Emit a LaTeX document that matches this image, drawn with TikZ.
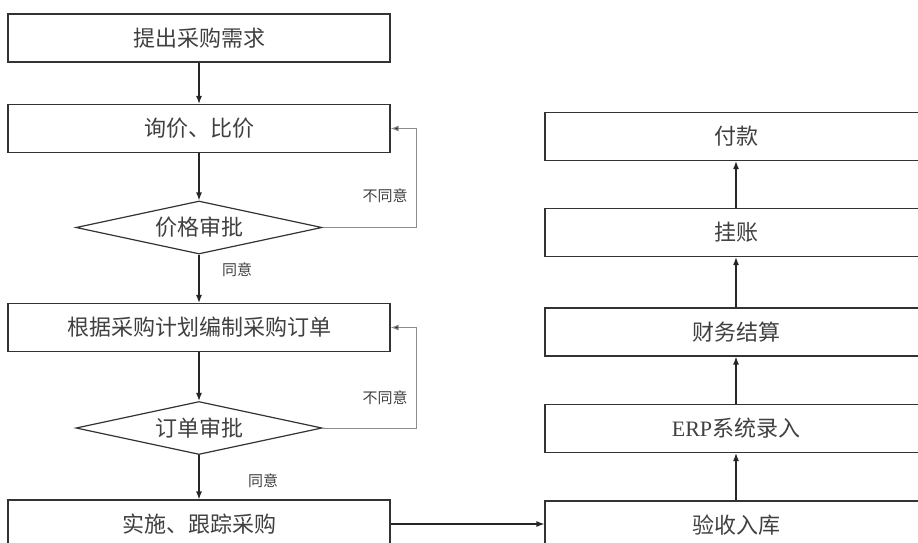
\documentclass[tikz,border=0pt]{standalone}
\usepackage{fontspec}
\setmainfont{Liberation Serif}
\newfontfamily\cjk{Noto Sans CJK SC}
\usetikzlibrary{shapes.geometric,arrows.meta}
\tikzset{
	box/.style={
			draw=black!80, line width=1.2pt, text=black!75, inner sep=0pt,
			minimum width=382pt, minimum height=48pt,
			font=\fontsize{22}{22}\selectfont\cjk
		},
	check/.style={
			diamond, aspect=4.6, draw=black!80, line width=1.2pt, text=black!75, inner sep=0pt,
			minimum width=246pt, minimum height=53pt,
			font=\fontsize{22}{22}\selectfont\cjk
		},
	note/.style={text=black!75, font=\fontsize{15}{15}\selectfont\cjk},
	flow/.style={draw=black!85, line width=1.2pt, -{Latex[length=8pt,width=6pt]}},
	back/.style={draw=black!45, line width=1pt, -{Latex[length=8pt,width=6pt,fill=black!85]}}
}

\begin{document}
\begin{tikzpicture}[x=1pt, y=-1pt]
	\useasboundingbox (0,0) rectangle (918,542);

	\node[box] (need) at (199,38) {提出采购需求};
	\node[box] (ask) at (199,128.5) {询价、比价};
	\node[check] (price) at (199,227.5) {价格审批};
	\node[box] (plan) at (199,327.5) {根据采购计划编制采购订单};
	\node[check] (order) at (199,428) {订单审批};
	\node[box] (buy) at (199,524) {实施、跟踪采购};

	\node[box] (store) at (736,525) {验收入库};
	\node[box] (erp) at (736,428.5) {{\rmfamily ERP}系统录入};
	\node[box] (settle) at (736,332) {财务结算};
	\node[box] (credit) at (736,232.5) {挂账};
	\node[box] (pay) at (736,136.5) {付款};

	\node[note] (no1) at (385,196) {不同意};
	\node[note] (yes1) at (237,270) {同意};
	\node[note] (no2) at (385,398) {不同意};
	\node[note] (yes2) at (263,481) {同意};

	\draw[flow] (need) -- (ask);
	\draw[flow] (ask) -- (price);
	\draw[flow] (price) -- (plan);
	\draw[flow] (plan) -- (order);
	\draw[flow] (order) -- (buy);
	\draw[back] (price.east) -- ++(94,0) |- (ask.east);
	\draw[back] (order.east) -- ++(94,0) |- (plan.east);
	\draw[flow] (buy.east) -- (buy.east -| store.west);
	\draw[flow] (store) -- (erp);
	\draw[flow] (erp) -- (settle);
	\draw[flow] (settle) -- (credit);
	\draw[flow] (credit) -- (pay);
\end{tikzpicture}
\end{document}
